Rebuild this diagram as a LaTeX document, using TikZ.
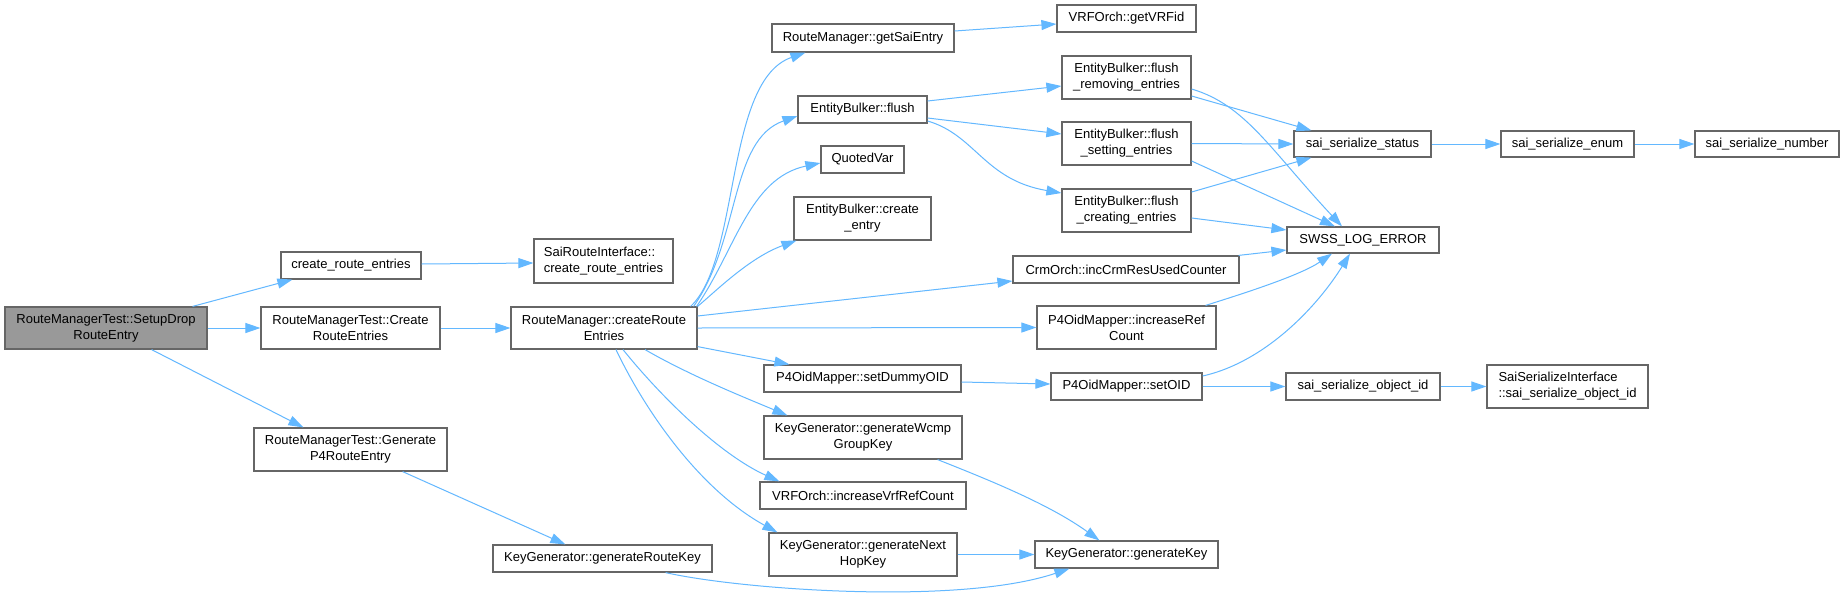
\documentclass[tikz,border=0pt]{standalone}
\usepackage{fontspec}
\setmainfont{Liberation Sans}
\usetikzlibrary{arrows.meta}
\definecolor{edgec}{HTML}{63B8FF}
\definecolor{bordc}{HTML}{666666}
\definecolor{rootc}{HTML}{999999}
\newcommand{\mybox}[7][]{\node[box,#1,minimum width=#5pt-#3pt,minimum height=#6pt-#4pt] (#2) at ({(#3+#5)/2},{(#4+#6)/2}) {#7};}
\begin{document}
\begin{tikzpicture}[x=1pt,y=-1pt,
  box/.style={draw=bordc,line width=1.2pt,fill=white,inner sep=0pt,font=\fontsize{13}{16}\selectfont,align=center},
  edge/.style={draw=edgec,line width=1pt,-{Triangle[length=15pt,width=10pt]}}]
\useasboundingbox[fill=white] (0,0) rectangle (1844,600);

\mybox[fill=rootc]{root}{5}{307}{207}{349}{RouteManagerTest::SetupDrop\\RouteEntry}
\mybox{cre}{281}{252}{421}{279}{create\_route\_entries}
\mybox{crt}{261}{307}{440}{349}{RouteManagerTest::Create\\RouteEntries}
\mybox{gen}{254}{428}{447}{471}{RouteManagerTest::Generate\\P4RouteEntry}
\mybox[align=left]{sri}{534}{239}{673}{283}{SaiRouteInterface::\\create\_route\_entries}
\mybox{crr}{511}{307}{697}{349}{RouteManager::createRoute\\Entries}
\mybox{gse}{772}{24}{954}{52}{RouteManager::getSaiEntry}
\mybox{ebf}{798}{96}{927}{123}{EntityBulker::flush}
\mybox{qv}{821}{146}{904}{173}{QuotedVar}
\mybox{ece}{794}{197}{931}{240}{EntityBulker::create\\\_entry}
\mybox{crm}{1013}{256}{1239}{283}{CrmOrch::incCrmResUsedCounter}
\mybox{irc}{1037}{306}{1216}{349}{P4OidMapper::increaseRef\\Count}
\mybox{sdo}{764}{365}{961}{392}{P4OidMapper::setDummyOID}
\mybox{wcmp}{764}{416}{962}{459}{KeyGenerator::generateWcmp\\GroupKey}
\mybox{vrfi}{760}{482}{966}{509}{VRFOrch::increaseVrfRefCount}
\mybox{nhk}{769}{533}{957}{576}{KeyGenerator::generateNext\\HopKey}
\mybox{grk}{493}{545}{712}{572}{KeyGenerator::generateRouteKey}
\mybox{vrf}{1057}{5}{1196}{32}{VRFOrch::getVRFid}
\mybox{fre}{1062}{56}{1191}{99}{EntityBulker::flush\\\_removing\_entries}
\mybox{fse}{1062}{122}{1191}{165}{EntityBulker::flush\\\_setting\_entries}
\mybox{fce}{1062}{189}{1191}{232}{EntityBulker::flush\\\_creating\_entries}
\mybox{gk}{1035}{541}{1218}{568}{KeyGenerator::generateKey}
\mybox{soid}{1051}{373}{1202}{400}{P4OidMapper::setOID}
\mybox{sss}{1294}{131}{1431}{157}{sai\_serialize\_status}
\mybox{swss}{1287}{227}{1439}{253}{SWSS\_LOG\_ERROR}
\mybox{ssoi}{1286}{373}{1440}{400}{sai\_serialize\_object\_id}
\mybox{sse}{1501}{131}{1634}{157}{sai\_serialize\_enum}
\mybox{ssn}{1695}{131}{1839}{157}{sai\_serialize\_number}
\mybox[align=left]{ssi}{1487}{365}{1648}{408}{SaiSerializeInterface\\::sai\_serialize\_object\_id}

% edges
\draw[edge] ([xshift=-15pt]root.north east) -- ([xshift=12pt]cre.south west);
\draw[edge] (root.east) -- (crt.west);
\draw[edge] ([xshift=-56pt]root.south east) -- ([xshift=50pt]gen.north west);
\draw[edge] ([yshift=1.5pt]cre.east) -- ([yshift=-2pt]sri.west);
\draw[edge] (crt.east) -- (crr.west);
\draw[edge] ([xshift=-45pt]gen.south east) -- ([xshift=73pt]grk.north west);
\draw[edge] ([xshift=-47pt]grk.south east) .. controls +(75,17) and +(-110,37) .. ([xshift=35pt]gk.south west);

\draw[edge] ([xshift=-7pt]crr.north east) .. controls +(50,-47) and +(-81,28) .. ([xshift=34pt]gse.south west);
\draw[edge] ([xshift=-4pt]crr.north east) .. controls +(47,-67) and +(-68,24) .. ([yshift=-6.5pt]ebf.west);
\draw[edge] ([xshift=-1pt]crr.north east) .. controls +(39,-57) and +(-71,15) .. ([yshift=-3.5pt]qv.west);
\draw[edge] (crr.north east) .. controls +(18,-15) and +(-47,17) .. ([xshift=3pt]ece.south west);
\draw[edge] ([yshift=12pt]crr.east) -- ([yshift=-11.5pt]crm.west);
\draw[edge] (crr.east) -- (irc.west);
\draw[edge] ([yshift=3pt]crr.south east) -- ([xshift=26pt]sdo.north west);
\draw[edge] ([xshift=41pt]crr.south) .. controls +(45,26) and +(-43,-18) .. ([xshift=24pt]wcmp.north west);
\draw[edge] ([xshift=19pt]crr.south) .. controls +(37,46) and +(-60,-27) .. ([xshift=20pt]vrfi.north west);
\draw[edge] ([xshift=12pt]crr.south) .. controls +(29,61) and +(-78,-43) .. ([xshift=9pt]nhk.north west);

\draw[edge] ([yshift=7pt]gse.east) -- ([yshift=-5.5pt]vrf.west);
\draw[edge] ([yshift=8.5pt]ebf.east) -- ([yshift=-8.5pt]fre.west);
\draw[edge] ([yshift=-8.5pt]ebf.east) -- ([yshift=9.5pt]fse.west);
\draw[edge] ([yshift=-11.5pt]ebf.east) .. controls +(48,14) and +(-77,-13) .. ([yshift=17.5pt]fce.west);

\draw[edge] ([yshift=-18.5pt]fre.east) -- ([xshift=18pt]sss.north west);
\draw[edge] ([yshift=-11.5pt]fre.east) .. controls +(54,16) and +(-72,-77) .. ([xshift=-21pt]swss.north);
\draw[edge] (fse.east) -- (sss.west);
\draw[edge] ([yshift=-17.5pt]fse.east) -- ([xshift=-28pt]swss.north);
\draw[edge] ([yshift=18.5pt]fce.east) -- ([xshift=18pt]sss.south west);
\draw[edge] ([yshift=-7.5pt]fce.east) -- ([yshift=10pt]swss.west);
\draw[edge] ([xshift=-1pt]crm.north east) -- ([yshift=-10pt]swss.west);
\draw[edge] ([xshift=-11pt]irc.north east) .. controls +(35,-11) and +(-32,22) .. ([xshift=-31pt]swss.south);
\draw[edge] ([yshift=10.5pt]soid.east) .. controls +(63,-14) and +(-32,52) .. ([xshift=-13pt]swss.south);
\draw[edge] (soid.east) -- (ssoi.west);
\draw[edge] (ssoi.east) -- (ssi.west);
\draw[edge] ([yshift=-3.5pt]sdo.east) -- ([yshift=2.5pt]soid.west);
\draw[edge] (sss.east) -- (sse.west);
\draw[edge] (sse.east) -- (ssn.west);
\draw[edge] ([xshift=-25pt]wcmp.south east) .. controls +(53,21) and +(-50,-36) .. ([xshift=65pt]gk.north west);
\draw[edge] (nhk.east) -- (gk.west);
\end{tikzpicture}
\end{document}
